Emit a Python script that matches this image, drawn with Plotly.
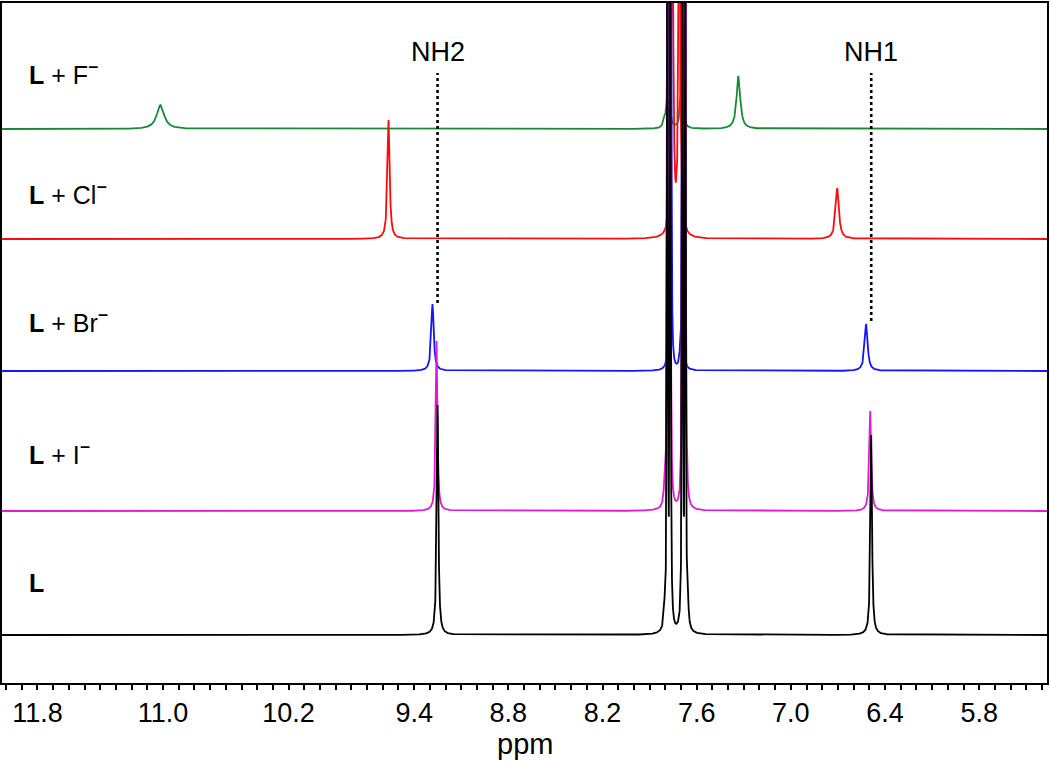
import numpy as np
import plotly.graph_objects as go

# ---------------- data ----------------
# x axis (ppm, reversed)
x_left_ppm, x_right_ppm = 12.026, 5.368
tick_values = [11.8, 11.0, 10.2, 9.4, 8.8, 8.2, 7.6, 7.0, 6.4, 5.8]
tick_labels = ["11.8", "11.0", "10.2", "9.4", "8.8", "8.2", "7.6", "7.0", "6.4", "5.8"]

series_names = ["L + F−", "L + Cl−", "L + Br−", "L + I−", "L"]
series_labels = ["<b>L</b> + F<sup><b>−</b></sup>", "<b>L</b> + Cl<sup><b>−</b></sup>",
                 "<b>L</b> + Br<sup><b>−</b></sup>", "<b>L</b> + I<sup><b>−</b></sup>", "<b>L</b>"]
series_colors = ["#178a35", "#ff0a0a", "#1414ff", "#e01ad8", "#000000"]
series_offsets = [554, 444, 312, 172, 48]   # stacking offset of each trace
label_y = [610, 490, 362, 230, 100]

# peak lists: position (ppm), height, half-width (ppm)
F_pos = [11.016, 7.334, 7.780, 7.695, 7.805]
F_h = [24, 53, 400, 400, 8]
F_w = [0.028, 0.014, 0.003, 0.003, 0.008]

Cl_pos = [9.563, 6.704, 7.755, 7.710, 7.785, 7.675]
Cl_h = [119, 51, 400, 400, 8, 8]
Cl_w = [0.008, 0.012, 0.0062, 0.0062, 0.005, 0.005]

Br_pos = [9.283, 6.520, 7.772, 7.762, 7.690, 7.705]
Br_h = [67, 47, 600, 400, 600, 12]
Br_w = [0.009, 0.011, 0.0025, 0.0025, 0.0025, 0.005]

I_pos = [9.257, 6.494, 7.787, 7.768, 7.691, 7.672, 7.805, 7.665]
I_h = [170, 100, 800, 800, 800, 800, 18, 20]
I_w = [0.006, 0.007, 0.0025, 0.0025, 0.0025, 0.0025, 0.005, 0.005]

L_pos = [9.251, 6.488, 7.787, 7.768, 7.691, 7.672, 7.805, 7.655]
L_h = [230, 200, 900, 900, 900, 900, 15, 15]
L_w = [0.006, 0.006, 0.0025, 0.0025, 0.0025, 0.0025, 0.005, 0.005]

peak_tables = [(F_pos, F_h, F_w), (Cl_pos, Cl_h, Cl_w), (Br_pos, Br_h, Br_w),
               (I_pos, I_h, I_w), (L_pos, L_h, L_w)]

NH_labels = ["NH2", "NH1"]
NH_ppm = [9.251, 6.488]
NH_line_top = [610, 610]
NH_line_bottom = [380, 362]

# ---------------- figure ----------------
ppm = np.arange(x_right_ppm, x_left_ppm, 0.0005)


def spectrum(pos, h, w, offset):
    y = np.full_like(ppm, float(offset))
    for p, a, g in zip(pos, h, w):
        y += a / (1.0 + ((ppm - p) / g) ** 2)
    return y


fig = go.Figure()
for name, col, off, (pos, h, w) in zip(series_names, series_colors, series_offsets, peak_tables):
    fig.add_trace(go.Scatter(x=ppm, y=spectrum(pos, h, w, off), mode="lines",
                             line=dict(color=col, width=1.8), name=name,
                             showlegend=False, hoverinfo="skip"))

for lab, yy in zip(series_labels, label_y):
    fig.add_annotation(x=11.865, y=yy, text=lab, showarrow=False, xanchor="left",
                       yanchor="middle", font=dict(size=25, color="black"))

for lab, xp, yt, yb in zip(NH_labels, NH_ppm, NH_line_top, NH_line_bottom):
    fig.add_shape(type="line", x0=xp, x1=xp, y0=yb, y1=yt,
                  line=dict(color="black", width=2.6, dash="dot"))
    fig.add_annotation(x=xp, y=yt + 4, text=lab, showarrow=False, xanchor="center",
                       yanchor="bottom", font=dict(size=27, color="black"))

# axis title as annotation
fig.add_annotation(x=0.5, xref="paper", y=-0.09, yref="paper", text="ppm", showarrow=False,
                   xanchor="center", yanchor="middle", font=dict(size=29, color="black"))

fig.update_layout(
    width=1050, height=762,
    margin=dict(l=2, r=3, t=3, b=79, autoexpand=False),
    paper_bgcolor="white", plot_bgcolor="white",
    font=dict(family="Liberation Sans, Arial, sans-serif", color="black"),
    xaxis=dict(range=[x_left_ppm, x_right_ppm], tickvals=tick_values, ticktext=tick_labels,
               ticks="outside", ticklen=5, tickwidth=1.5, tickcolor="black",
               minor=dict(dtick=0.1, tick0=0, ticks="outside", ticklen=5, tickwidth=1.5,
                          tickcolor="black"),
               showline=True, linecolor="black", linewidth=2, mirror=True,
               showgrid=False, zeroline=False, tickfont=dict(size=27), automargin=False),
    yaxis=dict(range=[0, 680], showticklabels=False, ticks="", showgrid=False,
               zeroline=False, showline=True, linecolor="black", linewidth=2, mirror=True,
               automargin=False),
)

fig.write_html("out.html", config={"displayModeBar": False},
               post_script="document.body.style.margin='0px';document.body.style.overflow='hidden';")
